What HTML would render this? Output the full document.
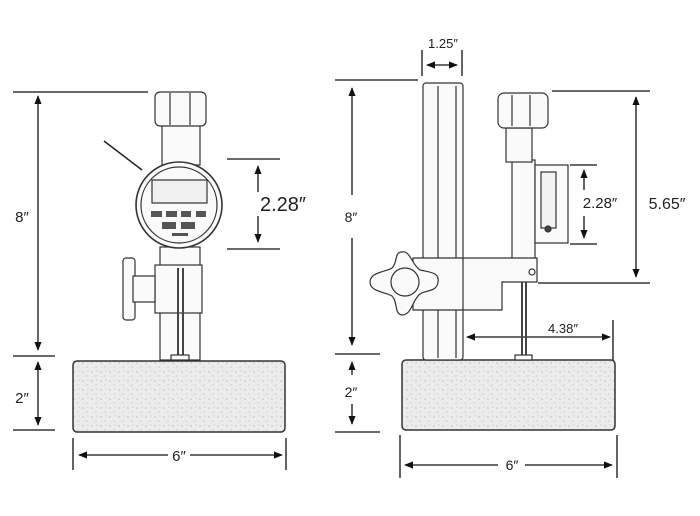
<!DOCTYPE html>
<html><head><meta charset="utf-8"><style>
html,body{margin:0;padding:0;background:#fff;}
svg{display:block;}
text{font-family:"Liberation Sans",sans-serif;fill:#222;}
</style></head><body>
<svg width="700" height="516" viewBox="0 0 700 516" xmlns="http://www.w3.org/2000/svg">
<defs>
<marker id="a" viewBox="0 0 10 10" refX="9" refY="5" markerWidth="7" markerHeight="7" orient="auto-start-reverse"><path d="M0,1 L10,5 L0,9 Z" fill="#111"/></marker>
<pattern id="sp" width="9" height="9" patternUnits="userSpaceOnUse">
<rect width="9" height="9" fill="#ececec"/>
<circle cx="2" cy="3" r="0.8" fill="#bbb"/><circle cx="6" cy="7" r="0.7" fill="#c4c4c4"/><circle cx="7" cy="2" r="0.5" fill="#aaa"/><circle cx="3" cy="7.5" r="0.5" fill="#d0d0d0"/>
</pattern>
</defs>
<g stroke="#111" stroke-width="1.3" fill="none">
<!-- LEFT dims -->
<line x1="13" y1="92" x2="148" y2="92"/>
<line x1="38" y1="96" x2="38" y2="350" marker-start="url(#a)" marker-end="url(#a)"/>
<line x1="13" y1="356" x2="55" y2="356"/>
<line x1="38" y1="362" x2="38" y2="425" marker-start="url(#a)" marker-end="url(#a)"/>
<line x1="13" y1="430" x2="55" y2="430"/>
<line x1="73" y1="438" x2="73" y2="470"/><line x1="286" y1="438" x2="286" y2="470"/>
<line x1="79" y1="455" x2="168" y2="455" marker-start="url(#a)"/>
<line x1="190" y1="455" x2="282" y2="455" marker-end="url(#a)"/>
<line x1="227" y1="159" x2="280" y2="159"/><line x1="227" y1="249" x2="280" y2="249"/>
<line x1="258" y1="166" x2="258" y2="192" marker-start="url(#a)"/>
<line x1="258" y1="216" x2="258" y2="242" marker-end="url(#a)"/>
</g>
<!-- LEFT base -->
<rect x="73" y="361" width="212" height="71" rx="4" fill="url(#sp)" stroke="#333" stroke-width="1.5"/>
<g stroke="#333" stroke-width="1.2" fill="#fafafa">
<!-- lower column -->
<rect x="160" y="247" width="40" height="113"/>
<rect x="155" y="265" width="47" height="48"/>
<line x1="178" y1="268" x2="178" y2="358" stroke="#444" stroke-width="2"/>
<line x1="183" y1="268" x2="183" y2="358" stroke="#444" stroke-width="2"/>
<rect x="171" y="355" width="18" height="5"/>
<!-- left knob -->
<rect x="123" y="258" width="12" height="62" rx="3"/>
<rect x="133" y="276" width="22" height="26"/>
<!-- upper column -->
<rect x="162" y="125" width="38" height="40"/>
<rect x="155" y="92" width="51" height="34" rx="5"/>
<line x1="170" y1="93" x2="170" y2="125"/><line x1="190" y1="93" x2="190" y2="125"/>
<!-- stylus -->
<line x1="104" y1="141" x2="142" y2="170" stroke="#222" stroke-width="1.5"/>
<!-- dial -->
<circle cx="179" cy="205" r="43" fill="#fafafa" stroke-width="1.6"/>
<circle cx="179" cy="205" r="38" fill="none"/>
<rect x="152" y="180" width="55" height="23" fill="#f0f0f0"/>
<g fill="#555" stroke="none">
<rect x="151" y="211" width="11" height="6"/><rect x="166" y="211" width="11" height="6"/><rect x="181" y="211" width="10" height="6"/><rect x="196" y="211" width="10" height="6"/>
<rect x="162" y="222" width="14" height="7"/><rect x="181" y="222" width="14" height="7"/>
<rect x="172" y="233" width="16" height="3"/>
</g>
</g>
<!-- RIGHT dims -->
<g stroke="#111" stroke-width="1.3" fill="none">
<line x1="422" y1="50" x2="422" y2="76"/><line x1="462" y1="50" x2="462" y2="76"/>
<line x1="427" y1="65" x2="457" y2="65" marker-start="url(#a)" marker-end="url(#a)"/>
<line x1="335" y1="80" x2="418" y2="80"/>
<line x1="352" y1="88" x2="352" y2="195" marker-start="url(#a)"/>
<line x1="352" y1="238" x2="352" y2="345" marker-end="url(#a)"/>
<line x1="335" y1="354" x2="380" y2="354"/>
<line x1="352" y1="362" x2="352" y2="375" marker-start="url(#a)"/>
<line x1="352" y1="404" x2="352" y2="424" marker-end="url(#a)"/>
<line x1="335" y1="432" x2="380" y2="432"/>
<line x1="400" y1="435" x2="400" y2="478"/><line x1="617" y1="435" x2="617" y2="478"/>
<line x1="405" y1="465" x2="498" y2="465" marker-start="url(#a)"/>
<line x1="525" y1="465" x2="612" y2="465" marker-end="url(#a)"/>
<line x1="613" y1="320" x2="613" y2="362"/>
<line x1="467" y1="337" x2="610" y2="337" marker-start="url(#a)" marker-end="url(#a)"/>
<line x1="552" y1="91" x2="650" y2="91"/><line x1="538" y1="283" x2="650" y2="283"/>
<line x1="636" y1="97" x2="636" y2="277" marker-start="url(#a)" marker-end="url(#a)"/>
<line x1="570" y1="165" x2="597" y2="165"/><line x1="570" y1="244" x2="597" y2="244"/>
<line x1="584" y1="170" x2="584" y2="190" marker-start="url(#a)"/>
<line x1="584" y1="216" x2="584" y2="238" marker-end="url(#a)"/>
</g>
<rect x="402" y="360" width="213" height="70" rx="4" fill="url(#sp)" stroke="#333" stroke-width="1.5"/>
<g stroke="#333" stroke-width="1.2" fill="#fafafa">
<rect x="423" y="83" width="40" height="277" rx="3"/>
<line x1="438" y1="86" x2="438" y2="358"/><line x1="456" y1="86" x2="456" y2="358"/>
<rect x="512" y="160" width="23" height="120"/>
<rect x="535" y="165" width="33" height="78"/>
<rect x="541" y="172" width="15" height="56" fill="#f2f2f2"/>
<circle cx="548" cy="229" r="3" fill="#444"/>
<path d="M413,258 H537 V282 H502 V310 H413 Z"/>
<line x1="463" y1="258" x2="463" y2="310"/>
<circle cx="532" cy="272" r="3"/>
<rect x="506" y="128" width="26" height="34"/>
<rect x="498" y="93" width="50" height="35" rx="6"/>
<line x1="512" y1="95" x2="512" y2="126"/><line x1="530" y1="95" x2="530" y2="126"/>
<line x1="522" y1="282" x2="522" y2="358" stroke="#444" stroke-width="2"/>
<line x1="526" y1="282" x2="526" y2="358" stroke="#444" stroke-width="2"/>
<rect x="515" y="355" width="17" height="5"/>
<path d="M402,252 C410,250 412,265 420,270 C428,272 440,272 438,282 C437,292 426,290 420,294 C412,300 412,315 402,315 C394,314 398,302 392,296 C386,292 370,292 370,282 C370,272 386,272 392,268 C398,262 394,252 402,252 Z"/>
<circle cx="405" cy="282" r="14"/>
</g>
<!-- labels -->
<text x="22" y="222" font-size="15" text-anchor="middle">8″</text>
<text x="22" y="403" font-size="15" text-anchor="middle">2″</text>
<text x="179" y="461" font-size="15" text-anchor="middle">6″</text>
<text x="283" y="211" font-size="20" text-anchor="middle">2.28″</text>
<text x="443" y="48" font-size="13" text-anchor="middle">1.25″</text>
<text x="351" y="222" font-size="14" text-anchor="middle">8″</text>
<text x="351" y="397" font-size="14" text-anchor="middle">2″</text>
<text x="512" y="470" font-size="14" text-anchor="middle">6″</text>
<text x="563" y="333" font-size="13" text-anchor="middle">4.38″</text>
<text x="667" y="209" font-size="16" text-anchor="middle">5.65″</text>
<text x="600" y="208" font-size="15" text-anchor="middle">2.28″</text>
</svg>
</body></html>
